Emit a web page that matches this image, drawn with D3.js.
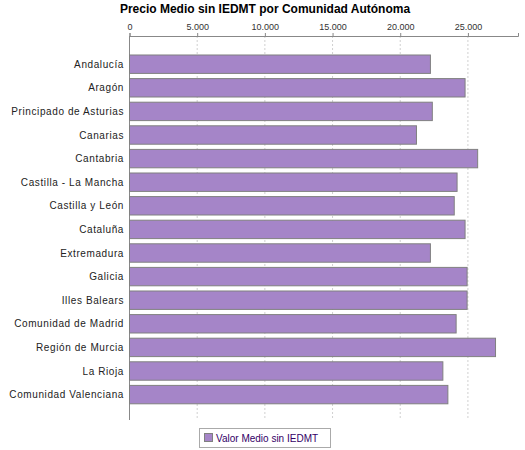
<!DOCTYPE html><html><head><meta charset="utf-8"><script src="https://d3js.org/d3.v7.min.js"></script>
<style>body{margin:0;background:#fff}text{font-family:"Liberation Sans",Arial,sans-serif}</style></head><body><script>
const categories=["Andalucía","Aragón","Principado de Asturias","Canarias","Cantabria","Castilla - La Mancha","Castilla y León","Cataluña","Extremadura","Galicia","Illes Balears","Comunidad de Madrid","Región de Murcia","La Rioja","Comunidad Valenciana"];
const values=[22230,24790,22370,21200,25720,24200,23990,24790,22230,24940,24940,24130,27040,23150,23520];
const ticks=[0,5000,10000,15000,20000,25000];
const W=525,H=450;
const svg=d3.select("body").append("svg").attr("width",W).attr("height",H);
const x=d3.scaleLinear().domain([0,28700]).range([129.5,518]);
const y=d3.scaleBand().domain(categories).range([52.4,406.4]).paddingInner(0.22).paddingOuter(0.11);
const fmt=d=>d3.format(",")(d).replace(/,/g,".");
svg.append("text").attr("x",265).attr("y",13).attr("text-anchor","middle").attr("font-weight","bold").attr("font-size",12).text("Precio Medio sin IEDMT por Comunidad Autónoma");
svg.append("g").selectAll("line").data(ticks.slice(1)).join("line").attr("x1",d=>x(d)).attr("x2",d=>x(d)).attr("y1",36).attr("y2",420).attr("stroke","#d0d0d0").attr("stroke-dasharray","2,2");
const ax=svg.append("g").attr("transform","translate(0,36)").call(d3.axisTop(x).tickValues(ticks).tickFormat(fmt).tickSize(3));
ax.select(".domain").attr("stroke","#888");ax.selectAll("line").attr("stroke","#888");
ax.selectAll("text").attr("font-size",9).attr("fill","#333");
svg.append("line").attr("x1",129.5).attr("x2",129.5).attr("y1",36).attr("y2",420).attr("stroke","#888");
svg.append("g").selectAll("rect").data(values).join("rect").attr("x",x(0)).attr("y",(d,i)=>y(categories[i])).attr("width",d=>x(d)-x(0)).attr("height",y.bandwidth()).attr("fill","#a585c8").attr("stroke","#808080");
svg.append("g").selectAll("text").data(categories).join("text").attr("x",124).attr("y",d=>y(d)+y.bandwidth()/2+3.5).attr("text-anchor","end").attr("font-size",10).attr("letter-spacing",0.6).attr("fill","#222").text(d=>d);
const lg=svg.append("g");
lg.append("rect").attr("x",199.5).attr("y",428.5).attr("width",131).attr("height",19).attr("fill","#fff").attr("stroke","#aaa");
lg.append("rect").attr("x",204.5).attr("y",433.5).attr("width",8).attr("height",8).attr("fill","#a585c8").attr("stroke","#808080");
lg.append("text").attr("x",216).attr("y",442).attr("font-size",10).attr("fill","#330066").text("Valor Medio sin IEDMT");
</script></body></html>
